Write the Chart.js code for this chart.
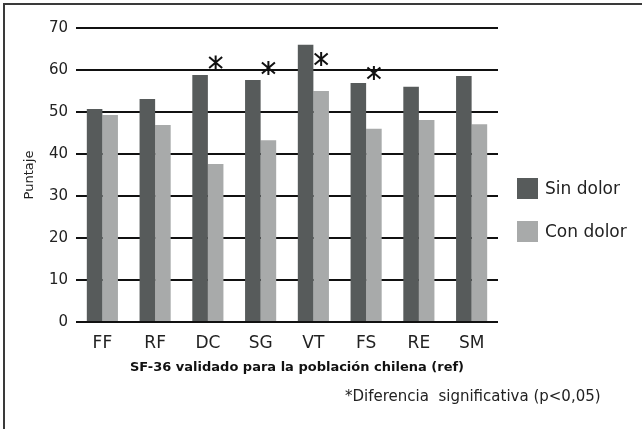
<!DOCTYPE html>
<html>
<head>
<meta charset="utf-8">
<script src="https://cdn.jsdelivr.net/npm/chart.js@4"></script>
<style>
html,body{margin:0;padding:0;background:#fff}
#wrap{position:relative;width:642px;height:429px;overflow:hidden;font-family:"DejaVu Sans",Verdana,sans-serif}
#frame{position:absolute;left:3px;top:3px;width:700px;height:500px;border-top:2px solid #3a3a3a;border-left:2px solid #3a3a3a}
#chart{position:absolute;left:0;top:0}
.leg{position:absolute;left:517px;font-size:17px;color:#222;line-height:21px}
.leg span{display:inline-block;width:21px;height:21px;vertical-align:top;margin-right:7px}
#xtitle{position:absolute;left:130px;top:359px;font-size:13px;line-height:16px;font-weight:bold;color:#111;white-space:nowrap}
#note{position:absolute;left:345px;top:387px;font-size:15px;line-height:18px;color:#222}
</style>
</head>
<body>
<div id="wrap">
<div id="frame"></div>
<canvas id="chart" width="642" height="429"></canvas>
<div id="xtitle">SF-36 validado para la población chilena (ref)</div>
<div class="leg" style="top:178px"><span style="background:#575b5b"></span>Sin dolor</div>
<div class="leg" style="top:221px"><span style="background:#a8aaaa"></span>Con dolor</div>
<div id="note">*Diferencia&nbsp; significativa (p&lt;0,05)</div>
</div>
<script>
let categories=["FF","RF","DC","SG","VT","FS","RE","SM"]
let sinDolor=[50.7,53.1,58.8,57.6,66.0,56.9,56.0,58.6]
let conDolor=[49.3,46.9,37.6,43.3,55.0,46.0,48.1,47.1]
// height of the significance asterisk, null = no mark
let asterisk=[null,null,61.8,60.5,62.6,59.3,null,null]
let yTicks=[0,10,20,30,40,50,60,70]

let asteriskPlugin={
id:"asterisk",
afterDatasetsDraw(chart){
let ctx=chart.ctx
let meta=chart.getDatasetMeta(1)
let y=chart.scales.y
ctx.save()
ctx.strokeStyle="#111"
ctx.lineWidth=2
asterisk.forEach((v,i)=>{
if(v==null) return
let cx=meta.data[i].x
let cy=y.getPixelForValue(v)
ctx.beginPath()
ctx.moveTo(cx,cy-7)
ctx.lineTo(cx,cy+7)
ctx.moveTo(cx-6.5,cy-5.5)
ctx.lineTo(cx+6.5,cy+5.5)
ctx.moveTo(cx+6.5,cy-5.5)
ctx.lineTo(cx-6.5,cy+5.5)
ctx.stroke()
})
ctx.restore()
}
}

new Chart(document.getElementById("chart"),{
type:"bar",
data:{
labels:categories,
datasets:[
{label:"Sin dolor",data:sinDolor,backgroundColor:"#575b5b"},
{label:"Con dolor",data:conDolor,backgroundColor:"#a8aaaa"}
]
},
options:{
responsive:false,
animation:false,
devicePixelRatio:1,
layout:{padding:{left:0,right:144,top:28,bottom:54}},
datasets:{bar:{categoryPercentage:0.59,barPercentage:1}},
plugins:{legend:{display:false},tooltip:{enabled:false}},
scales:{
x:{
afterFit:s=>{s.height=53},
grid:{display:false,drawTicks:false},
border:{display:false},
ticks:{color:"#222",font:{family:"DejaVu Sans",size:17},padding:11}
},
y:{
min:0,max:70,
afterFit:s=>{s.width=76},
afterBuildTicks:s=>{s.ticks=yTicks.map(v=>({value:v}))},
grid:{color:"#111",lineWidth:2,drawTicks:false},
border:{display:false},
ticks:{color:"#222",font:{family:"DejaVu Sans",size:15},padding:8},
title:{display:true,text:"Puntaje",color:"#222",font:{family:"DejaVu Sans",size:13},padding:{top:22,bottom:0}}
}
}
},
plugins:[asteriskPlugin]
})
</script>
</body>
</html>
